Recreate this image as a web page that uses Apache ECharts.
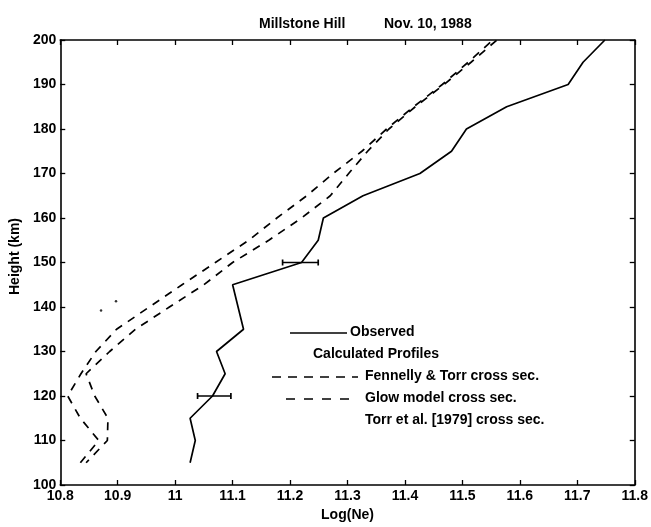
<!DOCTYPE html>
<html>
<head>
<meta charset="utf-8">
<script src="https://cdn.jsdelivr.net/npm/echarts@6/dist/echarts.min.js"></script>
<style>
html,body{margin:0;padding:0;background:#fff;}
#c{width:651px;height:527px;}
</style>
</head>
<body>
<div id="c"></div>
<script>
// ---- data ----
const xTicks = [10.8, 10.9, 11.0, 11.1, 11.2, 11.3, 11.4, 11.5, 11.6, 11.7, 11.8];
const yTicks = [100, 110, 120, 130, 140, 150, 160, 170, 180, 190, 200];

const obsHeight = [105, 110, 115, 120, 125, 130, 135, 145, 150, 155, 160, 165, 170, 175, 180, 185, 190, 195, 200];
const obsLogNe  = [11.026, 11.035, 11.026, 11.065, 11.087, 11.072, 11.119, 11.100, 11.220, 11.249, 11.258, 11.327, 11.426, 11.481, 11.507, 11.577, 11.684, 11.710, 11.748];

const ftHeight = [105, 110, 115, 120, 125, 130, 135, 140, 145, 150, 155, 160, 165, 170, 175, 180, 185, 190, 195, 200];
const ftLogNe  = [10.835, 10.867, 10.835, 10.813, 10.836, 10.862, 10.898, 10.955, 11.012, 11.070, 11.128, 11.177, 11.229, 11.275, 11.325, 11.368, 11.415, 11.465, 11.510, 11.553];

const glowHeight = [105, 110, 115, 120, 125, 130, 135, 140, 145, 150, 155, 160, 165, 170, 175, 180, 185, 190, 195, 200];
const glowLogNe  = [10.845, 10.882, 10.883, 10.860, 10.845, 10.886, 10.931, 10.990, 11.050, 11.100, 11.163, 11.220, 11.270, 11.302, 11.335, 11.372, 11.418, 11.468, 11.515, 11.560];

const torrHeight = [139.2, 141.3];
const torrLogNe  = [10.871, 10.897];

// error bars: center, height, half-width
const errCenter = [11.068, 11.218];
const errHeight = [120, 150];
const errHalf   = [0.029, 0.031];

const legendLabels = ['Observed', 'Calculated Profiles', 'Fennelly & Torr cross sec.', 'Glow model cross sec.', 'Torr et al. [1979] cross sec.'];
const titleParts = ['Millstone Hill', 'Nov. 10, 1988'];

// ---- build ----
const pairs = (xs, ys) => xs.map((x, i) => [x, ys[i]]);
const FONT = 'Liberation Sans, Arial, Helvetica, sans-serif';
const FS = 14;
const txt = { fontFamily: FONT, fontSize: FS, fontWeight: 'bold', color: '#000' };
const gfont = 'bold ' + FS + 'px ' + FONT;

const chart = echarts.init(document.getElementById('c'), null, { renderer: 'canvas' });

const fmtX = v => String(+(+v).toFixed(1));

const option = {
  animation: false,
  backgroundColor: '#fff',
  title: [
    { text: titleParts[0], left: 254, top: 12, textStyle: Object.assign({}, txt) },
    { text: titleParts[1], left: 379, top: 12, textStyle: Object.assign({}, txt) }
  ],
  grid: { left: 60, right: 14, top: 40, bottom: 38.5, containLabel: false },
  xAxis: [
    {
      type: 'value', min: xTicks[0], max: xTicks[xTicks.length - 1], interval: 0.1,
      position: 'bottom',
      name: 'Log(Ne)', nameLocation: 'middle', nameGap: 23,
      nameTextStyle: Object.assign({}, txt),
      axisLine: { show: true, onZero: false, lineStyle: { color: '#000', width: 1.6 } },
      axisTick: { show: true, inside: true, length: 5, lineStyle: { color: '#000', width: 1.3 } },
      axisLabel: Object.assign({ margin: 4, formatter: fmtX, showMinLabel: true, showMaxLabel: true, hideOverlap: false }, txt),
      splitLine: { show: false }
    },
    {
      type: 'value', min: xTicks[0], max: xTicks[xTicks.length - 1], interval: 0.1,
      position: 'top',
      axisLine: { show: true, onZero: false, lineStyle: { color: '#000', width: 1.6 } },
      axisTick: { show: true, inside: true, length: 5, lineStyle: { color: '#000', width: 1.3 } },
      axisLabel: { show: false },
      splitLine: { show: false }
    }
  ],
  yAxis: [
    {
      type: 'value', min: yTicks[0], max: yTicks[yTicks.length - 1], interval: 10,
      position: 'left',
      name: 'Height (km)', nameLocation: 'middle', nameGap: 38, nameRotate: 90,
      nameTextStyle: Object.assign({ padding: [0, 0, 0, 12] }, txt),
      axisLine: { show: true, onZero: false, lineStyle: { color: '#000', width: 1.6 } },
      axisTick: { show: true, inside: true, length: 5, lineStyle: { color: '#000', width: 1.3 } },
      axisLabel: Object.assign({ margin: 4, showMinLabel: true, showMaxLabel: true }, txt),
      splitLine: { show: false }
    },
    {
      type: 'value', min: yTicks[0], max: yTicks[yTicks.length - 1], interval: 10,
      position: 'right',
      axisLine: { show: true, onZero: false, lineStyle: { color: '#000', width: 1.6 } },
      axisTick: { show: true, inside: true, length: 5, lineStyle: { color: '#000', width: 1.3 } },
      axisLabel: { show: false },
      splitLine: { show: false }
    }
  ],
  series: [
    {
      name: legendLabels[0], type: 'line', data: pairs(obsLogNe, obsHeight),
      showSymbol: false, symbol: 'none', smooth: false,
      lineStyle: { color: '#000', width: 1.7 }, z: 5
    },
    {
      name: legendLabels[2], type: 'line', data: pairs(ftLogNe, ftHeight),
      showSymbol: false, symbol: 'none',
      lineStyle: { color: '#000', width: 1.7, type: [8, 7] }
    },
    {
      name: legendLabels[3], type: 'line', data: pairs(glowLogNe, glowHeight),
      showSymbol: false, symbol: 'none',
      lineStyle: { color: '#000', width: 1.7, type: [8, 7], dashOffset: 4 }
    },
    {
      name: legendLabels[4], type: 'scatter', data: pairs(torrLogNe, torrHeight),
      symbol: 'circle', symbolSize: 2.5, itemStyle: { color: '#000' }
    },
    {
      name: 'errors', type: 'custom',
      data: errCenter.map((c, i) => [c, errHeight[i], errHalf[i]]),
      encode: { x: 0, y: 1 },
      renderItem: function (params, api) {
        const c = api.value(0), h = api.value(1), d = api.value(2);
        const p1 = api.coord([c - d, h]);
        const p2 = api.coord([c + d, h]);
        const cap = 3;
        const st = { stroke: '#000', lineWidth: 1.7, fill: null };
        return {
          type: 'group',
          children: [
            { type: 'line', shape: { x1: p1[0], y1: p1[1], x2: p2[0], y2: p2[1] }, style: st },
            { type: 'line', shape: { x1: p1[0], y1: p1[1] - cap, x2: p1[0], y2: p1[1] + cap }, style: st },
            { type: 'line', shape: { x1: p2[0], y1: p2[1] - cap, x2: p2[0], y2: p2[1] + cap }, style: st }
          ]
        };
      },
      z: 6
    }
  ],
  graphic: [
    { type: 'line', shape: { x1: 290, y1: 333, x2: 347, y2: 333 }, style: { stroke: '#000', lineWidth: 1.7 } },
    { type: 'text', left: 350, top: 325, style: { text: legendLabels[0], font: gfont, fill: '#000' } },
    { type: 'text', left: 313, top: 347, style: { text: legendLabels[1], font: gfont, fill: '#000' } },
    { type: 'line', shape: { x1: 272, y1: 377, x2: 358, y2: 377 }, style: { stroke: '#000', lineWidth: 1.5, lineDash: [9, 7] } },
    { type: 'text', left: 365, top: 369, style: { text: legendLabels[2], font: gfont, fill: '#000' } },
    { type: 'line', shape: { x1: 286, y1: 399, x2: 358, y2: 399 }, style: { stroke: '#000', lineWidth: 1.5, lineDash: [9, 9] } },
    { type: 'text', left: 365, top: 391, style: { text: legendLabels[3], font: gfont, fill: '#000' } },
    { type: 'text', left: 365, top: 413, style: { text: legendLabels[4], font: gfont, fill: '#000' } }
  ]
};
chart.setOption(option);
</script>
</body>
</html>
